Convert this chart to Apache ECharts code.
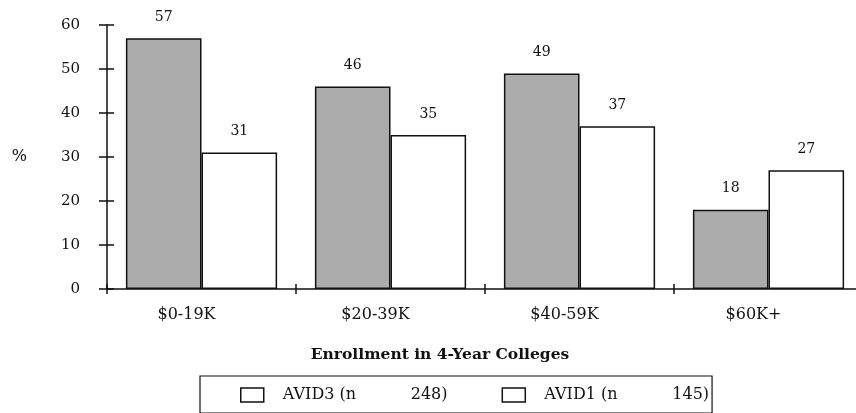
<!DOCTYPE html>
<html><head><meta charset="utf-8">
<script src="https://cdn.jsdelivr.net/npm/echarts@6/dist/echarts.min.js"></script>
<style>html,body{margin:0;padding:0;background:#fff;overflow:hidden}#c{width:866px;height:413px}</style>
</head><body><div id="c"></div>
<script>
const categories = ['$0-19K', '$20-39K', '$40-59K', '$60K+'];
const avid3 = [57, 46, 49, 18];
const avid1 = [31, 35, 37, 27];
const yTicks = [0, 10, 20, 30, 40, 50, 60];
const seriesNames = ['AVID3 (n 248)', 'AVID1 (n 145)'];
const xTitle = 'Enrollment in 4-Year Colleges';

const font = '"DejaVu Serif", "Liberation Serif", serif';
const chart = echarts.init(document.getElementById('c'));
const lbl = {show: true, position: 'top', distance: 14, color: '#111', fontFamily: font, fontSize: 14};
chart.setOption({
  animation: false,
  backgroundColor: '#fff',
  title: {text: xTitle, left: 435, top: 342, textAlign: 'center',
    textStyle: {fontFamily: font, fontSize: 15.5, fontWeight: 'bold', color: '#111'}},
  grid: {left: 107, top: 25, width: 756, height: 264},
  legend: {
    data: seriesNames, left: 200, top: 376,
    borderColor: '#111', borderWidth: 1.2, padding: [11, 3, 10, 40],
    itemGap: 54, itemWidth: 23, itemHeight: 14,
    icon: 'rect',
    itemStyle: {color: '#fff', borderColor: '#111', borderWidth: 1.5},
    formatter: function (name) {
      const i = name.lastIndexOf(' ');
      return '{a|' + name.slice(0, i) + '}{b|' + name.slice(i + 1) + '}';
    },
    textStyle: {fontFamily: font, fontSize: 16, color: '#111', padding: [0, 0, 0, 14],
      rich: {
        a: {fontFamily: font, fontSize: 16, color: '#111', width: 128},
        b: {fontFamily: font, fontSize: 16, color: '#111'}
      }}
  },
  xAxis: [{
    type: 'category', data: categories,
    axisLine: {lineStyle: {color: '#111', width: 1.5}},
    axisTick: {show: true, length: 5, lineStyle: {color: '#111', width: 1.5}},
    axisLabel: {fontFamily: font, fontSize: 16, color: '#111', margin: 18, padding: [0, 30, 0, 0]}
  }, {
    type: 'category', data: categories, position: 'bottom', offset: 0,
    axisLine: {show: false},
    axisTick: {show: true, inside: true, length: 5, lineStyle: {color: '#111', width: 1.5}},
    axisLabel: {show: false}
  }],
  yAxis: [{
    type: 'value', min: yTicks[0], max: yTicks[yTicks.length - 1], interval: 10,
    name: '%', nameLocation: 'middle', nameRotate: 0, nameGap: 80,
    nameTextStyle: {fontFamily: font, fontSize: 16, color: '#111', padding: [0, 0, 6, 0]},
    splitLine: {show: false},
    axisLine: {show: true, lineStyle: {color: '#111', width: 1.5}},
    axisTick: {show: true, length: 8, lineStyle: {color: '#111', width: 1.5}},
    axisLabel: {fontFamily: font, fontSize: 15, color: '#111', margin: 27}
  }, {
    type: 'value', min: yTicks[0], max: yTicks[yTicks.length - 1], interval: 10,
    position: 'left', offset: 0,
    splitLine: {show: false}, axisLine: {show: false},
    axisTick: {show: true, inside: true, length: 7, lineStyle: {color: '#111', width: 1.5}},
    axisLabel: {show: false}
  }],
  series: [{
    name: seriesNames[0], type: 'bar', data: avid3, barGap: '0%', barCategoryGap: '20%',
    itemStyle: {color: '#acacac', borderColor: '#111', borderWidth: 1.5},
    label: lbl
  }, {
    name: seriesNames[1], type: 'bar', data: avid1,
    itemStyle: {color: '#fff', borderColor: '#111', borderWidth: 1.5},
    label: lbl
  }]
});
</script></body></html>
